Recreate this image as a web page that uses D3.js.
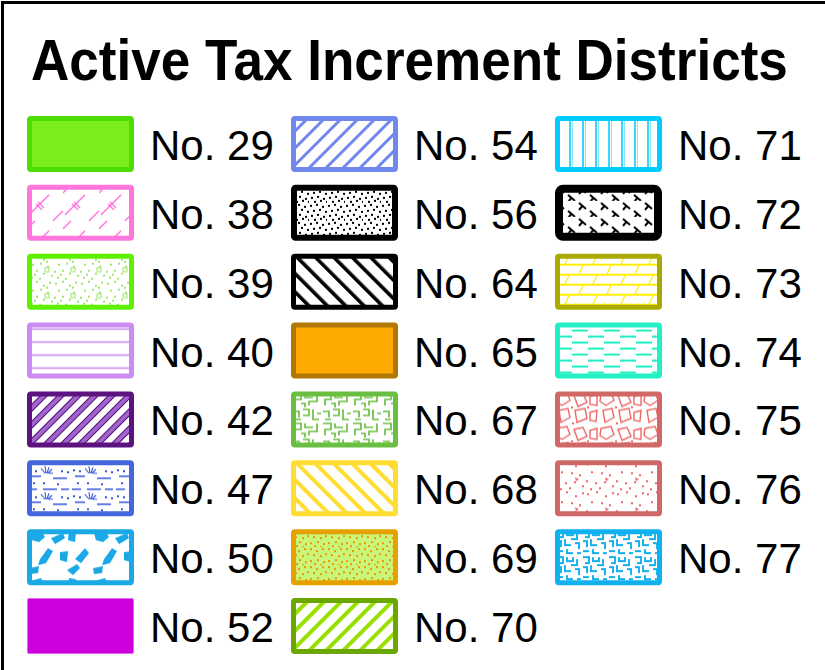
<!DOCTYPE html>
<html>
<head>
<meta charset="utf-8">
<script src="https://cdn.jsdelivr.net/npm/d3@7"></script>
<style>
  body { margin: 0; background: #fff; }
</style>
</head>
<body>
<div id="legend"></div>
<script>
'use strict';

// legend content
var title = "Active Tax Increment Districts";
var districts = [29, 38, 39, 40, 42, 47, 50, 52,
                 54, 56, 64, 65, 67, 68, 69, 70,
                 71, 72, 73, 74, 75, 76, 77];
var labels = districts.map(function(d) { return "No. " + d; });
var rowsPerColumn = 8;

// look of each swatch: fill (solid colour or pattern id) and border
var swatchStyle = {
  29: {fill: "#7aee1e", stroke: "#4ddd00", sw: 5},
  38: {fill: "url(#p38)", stroke: "#ff77dd", sw: 5},
  39: {fill: "url(#p39)", stroke: "#5ef000", sw: 5},
  40: {fill: "url(#p40)", stroke: "#cc8cf0", sw: 5},
  42: {fill: "url(#p42)", stroke: "#5c1380", sw: 5},
  47: {fill: "url(#p47)", stroke: "#4466dd", sw: 5},
  50: {fill: "url(#p50)", stroke: "#1aa9e6", sw: 5},
  52: {fill: "#cc00dd", stroke: "#dd66ee", sw: 1},
  54: {fill: "url(#p54)", stroke: "#7088ee", sw: 5},
  56: {fill: "url(#p56)", stroke: "#000000", sw: 6},
  64: {fill: "url(#p64)", stroke: "#000000", sw: 5},
  65: {fill: "#ffaa00", stroke: "#b07800", sw: 5},
  67: {fill: "url(#p67)", stroke: "#6abf40", sw: 5},
  68: {fill: "url(#p68)", stroke: "#ffdd33", sw: 5},
  69: {fill: "url(#p69)", stroke: "#e6a000", sw: 5},
  70: {fill: "url(#p70)", stroke: "#6aa800", sw: 5},
  71: {fill: "url(#p71)", stroke: "#00ccff", sw: 5},
  72: {fill: "url(#p72)", stroke: "#000000", sw: 8},
  73: {fill: "url(#p73)", stroke: "#aaaa00", sw: 5},
  74: {fill: "url(#p74)", stroke: "#22f0c4", sw: 5},
  75: {fill: "url(#p75)", stroke: "#d06868", sw: 5},
  76: {fill: "url(#p76)", stroke: "#d06868", sw: 5},
  77: {fill: "url(#p77)", stroke: "#11b0ee", sw: 5}
};

window.onload = function() {
  var width = 825, height = 670;
  var boxW = 107, boxH = 56;

  var svg = d3.select("#legend")
    .append("svg")
      .attr("width", width)
      .attr("height", height);

  var defs = svg.append("defs");

  // small helper to build a tile pattern
  function pat(id, w, h, bg, draw, transform) {
    var p = defs.append("pattern")
      .attr("id", id)
      .attr("patternUnits", "userSpaceOnUse")
      .attr("width", w)
      .attr("height", h);
    if (transform) p.attr("patternTransform", transform);
    p.append("rect").attr("width", w).attr("height", h).attr("fill", bg || "#fff");
    draw(p);
  }
  function dots(p, pts, color, s) {
    pts.forEach(function(q) {
      p.append("rect").attr("x", q[0]).attr("y", q[1])
        .attr("width", s).attr("height", s).attr("fill", color);
    });
  }
  function stroke(p, d, color, w) {
    p.append("path").attr("d", d).attr("fill", "none")
      .attr("stroke", color).attr("stroke-width", w);
  }
  function stripes(id, period, bandW, color, angle) {
    pat(id, period, period, "#fff", function(p) {
      p.append("rect").attr("x", 0).attr("width", bandW).attr("height", period).attr("fill", color);
    }, "rotate(" + angle + ")");
  }

  // diagonal stripes
  stripes("p54", 12, 3, "#7088ee", 45);
  stripes("p64", 13, 3.6, "#000", -45);
  stripes("p68", 13, 4, "#ffdd33", -45);
  stripes("p70", 12, 4, "#99e000", 45);
  pat("p42", 12, 12, "#fff", function(p) {
    p.append("rect").attr("x", 0).attr("width", 5).attr("height", 12).attr("fill", "#a066cc");
    p.append("rect").attr("x", 0).attr("width", 1).attr("height", 12).attr("fill", "#5c1380");
    p.append("rect").attr("x", 5).attr("width", 1).attr("height", 12).attr("fill", "#5c1380");
  }, "rotate(45)");

  // lines
  pat("p40", 20, 13, "#fff", function(p) {
    stroke(p, "M0,6.5H20", "#cc8cf0", 1.6);
  });
  pat("p71", 13, 20, "#fff", function(p) {
    stroke(p, "M2,0V20", "#00ccff", 1.6);
    stroke(p, "M4.5,0V20", "#88e6ff", 1);
  });
  pat("p73", 56, 20, "#fff", function(p) {
    stroke(p, "M0,1H56M0,11H56", "#ffee00", 2);
    stroke(p, "M10,10L14,2M38,10L42,2M24,20L28,12M52,20L56,12", "#ffee00", 1.2);
  });
  pat("p74", 32, 12, "#fff", function(p) {
    stroke(p, "M1,2H17M17,8H32M0,8H1", "#22f0c4", 2);
  });
  pat("p72", 22, 16, "#fff", function(p) {
    stroke(p, "M2,2L9,8M5.5,5L2,9M13,10L20,16M16.5,13L13,17", "#000", 2);
  });

  // dotted textures
  pat("p56", 18, 18, "#fff", function(p) {
    dots(p, [[1,2],[7,1],[13,3],[4,7],[10,6],[16,8],[2,12],[8,11],[14,13],[5,16],[11,15],[17,16]], "#000", 2);
  });
  pat("p39", 26, 26, "#fff", function(p) {
    dots(p, [[2,3],[9,1],[16,5],[22,2],[5,10],[13,9],[20,12],[1,17],[9,16],[16,19],[24,21],[4,23],[12,24],[19,7],[7,20]], "#9de86a", 2);
    p.append("rect").attr("x", 18).attr("y", 14).attr("width", 4).attr("height", 4)
      .attr("fill", "none").attr("stroke", "#9de86a").attr("stroke-width", 1);
  });
  pat("p69", 18, 18, "#c8f57a", function(p) {
    dots(p, [[1,1],[7,3],[13,1],[4,7],[11,8],[16,6],[1,13],[8,12],[14,14],[5,16],[11,17]], "#ec9a00", 2);
  });
  pat("p76", 30, 30, "#fff", function(p) {
    dots(p, [[2,3],[11,1],[20,5],[27,2],[6,11],[16,12],[24,14],[1,20],[10,22],[19,21],[27,25],[5,28],[14,27]], "#ee6666", 2);
    p.append("path").attr("d", "M20,17L24,19L21,21Z").attr("fill", "#ee6666");
  });

  // blob / outline textures
  pat("p50", 64, 48, "#fff", function(p) {
    var blobs = ["M3,4L14,1L18,8L12,13L5,11Z", "M24,9L36,4L38,9L28,15Z",
                 "M42,1L49,2L48,13L41,11Z", "M13,30L21,19L26,22L19,34L11,36Z",
                 "M33,23L41,22L40,33L33,31Z", "M48,30L58,19L62,24L54,34Z",
                 "M2,39L12,37L11,44L3,45Z", "M40,41L50,35L53,39L46,46Z"];
    blobs.forEach(function(d) { p.append("path").attr("d", d).attr("fill", "#1aa9e6"); });
  });
  pat("p75", 44, 34, "#fff", function(p) {
    var shapes = ["M2,3L12,1L15,9L7,14L1,10Z", "M19,4L28,2L32,11L23,15Z",
                  "M35,5L42,3L42,14L35,13Z", "M4,19L13,17L15,26L6,31Z",
                  "M20,19L30,17L32,27L22,31Z", "M35,21L42,19L41,30L35,29Z"];
    shapes.forEach(function(d) {
      p.append("path").attr("d", d).attr("fill", "none")
        .attr("stroke", "#ee6666").attr("stroke-width", 1.4);
    });
    dots(p, [[16,15],[32,15],[17,31]], "#ee6666", 2);
  });
  pat("p67", 30, 30, "#fff", function(p) {
    stroke(p, "M2,2H10V8H4V14M14,2V6H22M26,2V10H18V14M2,20H8V26M12,18H18V24H12M22,18V28H28M26,22H30M4,28H10M10,12H14V16",
      "#6abf40", 1.7);
  });
  pat("p77", 26, 26, "#fff", function(p) {
    stroke(p, "M2,2H8V8H4M12,2V6H18V2M22,4V10H16M2,12H6V18M10,10V16H16M20,14H24V20M2,22H8M12,20V24H18M22,24H26",
      "#11b0ee", 1.9);
  });
  pat("p47", 44, 26, "#fff", function(p) {
    stroke(p, "M1,3H10M16,3H30M34,3H42M4,16H14M26,18H40", "#3355dd", 1.6);
    stroke(p, "M18,13L14,8M19,13L18,6M20,13L22,7M21,13L25,9M22,13H26", "#3355dd", 1.1);
    dots(p, [[2,9],[8,10],[34,10],[40,11],[6,22],[30,23],[16,22]], "#3355dd", 2);
  });
  pat("p38", 36, 36, "#fff", function(p) {
    stroke(p, "M2,30L22,10M26,36L36,26M26,0L36,-10M0,8L8,0", "#ff66dd", 1.3);
    stroke(p, "M9,19L15,25M11,17L17,23", "#ff66dd", 1.1);
  });

  // frame
  svg.append("rect")
    .attr("x", 2.5)
    .attr("y", 2.5)
    .attr("width", width + 20)
    .attr("height", height + 20)
    .attr("fill", "none")
    .attr("stroke", "#000")
    .attr("stroke-width", 3);

  // title: bold, squeezed horizontally to a condensed look
  var titleText = svg.append("text")
    .style("font-family", "'Liberation Sans Narrow', 'Liberation Sans', Arial, sans-serif")
    .style("font-weight", "bold")
    .style("font-size", "58px")
    .text(title);
  var natural = titleText.node().getComputedTextLength();
  titleText.attr("transform", "translate(31,80) scale(" + (757 / natural) + ",1)");

  // grid of swatches: column-major, 8 per column
  var x = d3.scalePoint()
    .domain([0, 1, 2])
    .range([27, 555]);
  var y = d3.scalePoint()
    .domain(d3.range(rowsPerColumn))
    .range([116, 598]);

  var item = svg.selectAll("g.item")
    .data(districts)
    .enter()
    .append("g")
      .attr("class", "item")
      .attr("transform", function(d, i) {
        return "translate(" + x(Math.floor(i / rowsPerColumn)) + "," + y(i % rowsPerColumn) + ")";
      });

  item.append("rect")
    .attr("x", function(d) { return swatchStyle[d].sw / 2; })
    .attr("y", function(d) { return swatchStyle[d].sw / 2; })
    .attr("width", function(d) { return boxW - swatchStyle[d].sw; })
    .attr("height", function(d) { return boxH - swatchStyle[d].sw; })
    .attr("rx", function(d) { return d === 72 ? 4 : 1.5; })
    .style("fill", function(d) { return swatchStyle[d].fill; })
    .style("stroke", function(d) { return swatchStyle[d].stroke; })
    .style("stroke-width", function(d) { return swatchStyle[d].sw; });

  item.append("text")
    .attr("x", 123)
    .attr("y", 44)
    .style("font-family", "'Liberation Sans', Arial, sans-serif")
    .style("font-size", "42px")
    .text(function(d, i) { return labels[i]; });
};
</script>
</body>
</html>
